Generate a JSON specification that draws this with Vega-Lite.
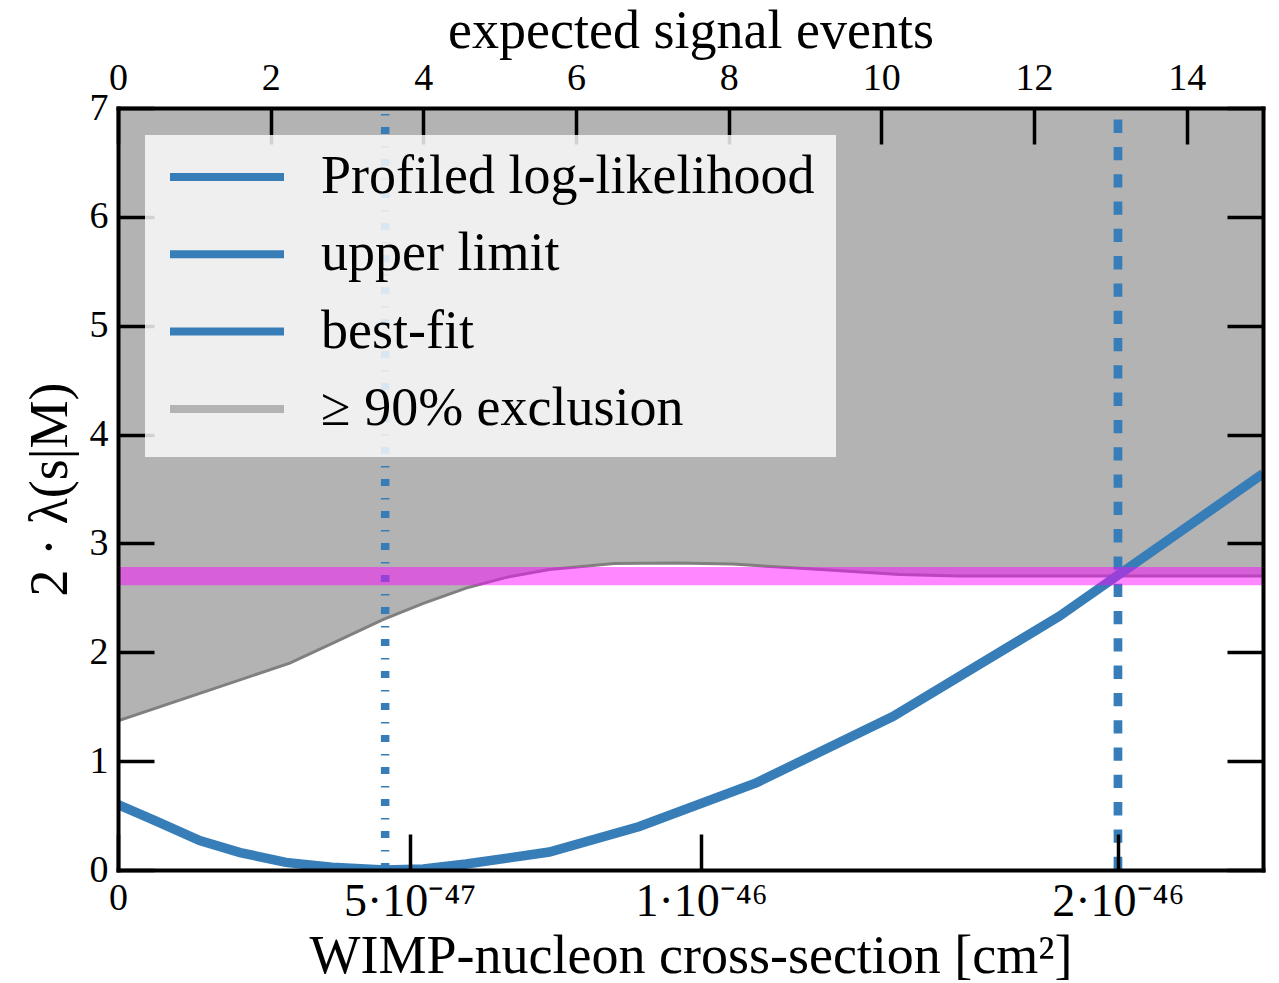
{
  "$schema": "https://vega.github.io/schema/vega-lite/v6.json",
  "width": 1145,
  "height": 762,
  "autosize": "none",
  "padding": {"left": 118, "top": 108, "right": 16, "bottom": 113},
  "background": "white",
  "config": {
    "font": "Liberation Serif",
    "view": {"stroke": null},
    "axis": {
      "grid": false,
      "domainColor": "black",
      "domainWidth": 4,
      "domainCap": "square",
      "tickColor": "black",
      "tickWidth": 3.5,
      "tickSize": -36,
      "labelFont": "Liberation Serif",
      "labelFontSize": 38,
      "labelColor": "black",
      "labelFlush": false,
      "labelOverlap": false,
      "labelBound": false,
      "titleFont": "Liberation Serif",
      "titleFontSize": 54,
      "titleFontWeight": "normal",
      "titleColor": "black"
    }
  },
  "datasets": {
    "threshold": [
      {"e": 0, "thr": 1.37},
      {"e": 2.25, "thr": 1.9},
      {"e": 2.8, "thr": 2.08},
      {"e": 3.47, "thr": 2.3},
      {"e": 4.0, "thr": 2.45},
      {"e": 4.56, "thr": 2.59},
      {"e": 5.1, "thr": 2.69},
      {"e": 5.65, "thr": 2.76},
      {"e": 6.5, "thr": 2.815},
      {"e": 7.3, "thr": 2.82},
      {"e": 8.05, "thr": 2.81},
      {"e": 9.0, "thr": 2.77},
      {"e": 10.24, "thr": 2.715},
      {"e": 11.0, "thr": 2.7},
      {"e": 15.0, "thr": 2.7}
    ],
    "profile": [
      {"e": 0, "v": 0.6},
      {"e": 0.5, "v": 0.45},
      {"e": 1.07, "v": 0.27},
      {"e": 1.6, "v": 0.16},
      {"e": 2.2, "v": 0.07},
      {"e": 2.8, "v": 0.025},
      {"e": 3.5, "v": 0.0},
      {"e": 4.0, "v": 0.01},
      {"e": 4.56, "v": 0.055},
      {"e": 5.65, "v": 0.165},
      {"e": 6.83, "v": 0.4},
      {"e": 8.36, "v": 0.8},
      {"e": 10.15, "v": 1.41},
      {"e": 12.33, "v": 2.33},
      {"e": 15.0, "v": 3.64}
    ],
    "bestfit": [{"e": 3.5}],
    "upper": [{"e": 13.1}],
    "band": [{"v": 2.7}]
  },
  "layer": [
    {
      "data": {"name": "threshold"},
      "mark": {"type": "area", "clip": true, "opacity": 1},
      "encoding": {
        "x": {
          "field": "e", "type": "quantitative",
          "scale": {"domain": [0, 15], "nice": false, "zero": false},
          "axis": {
            "orient": "bottom",
            "zindex": 1,
            "title": "WIMP-nucleon cross-section [cm²]",
            "values": [0, 3.82, 7.64, 13.1],
            "labelExpr": "datum.value < 1 ? '0' : datum.value < 5 ? '5·10⁻⁴⁷' : datum.value < 10 ? '1·10⁻⁴⁶' : '2·10⁻⁴⁶'",
            "labelFontSize": {"condition": {"test": "datum.value < 1", "value": 38}, "value": 46},
            "labelPadding": 45,
            "titlePadding": 5
          }
        },
        "y": {
          "field": "thr", "type": "quantitative",
          "scale": {"domain": [0, 7], "nice": false, "zero": false},
          "axis": {
            "orient": "left",
            "zindex": 1,
            "title": "2 · λ(s|M)",
            "values": [0, 1, 2, 3, 4, 5, 6, 7],
            "labelPadding": 46,
            "titlePadding": 12
          }
        },
        "y2": {"datum": 7},
        "color": {
          "datum": "≥ 90% exclusion",
          "type": "nominal",
          "scale": {
            "domain": ["Profiled log-likelihood", "upper limit", "best-fit", "≥ 90% exclusion"],
            "range": ["#377eb8", "#377eb8", "#377eb8", "#b3b3b3"]
          },
          "legend": {
            "title": null,
            "orient": "none",
            "legendX": 27,
            "legendY": 27,
            "padding": 21,
            "fillColor": "rgba(251,251,251,0.83)",
            "strokeColor": null,
            "symbolType": "stroke",
            "symbolSize": 12996,
            "symbolStrokeWidth": 8,
            "clipHeight": 42,
            "rowPadding": 23.3,
            "labelFont": "Liberation Serif",
            "labelFontSize": 54,
            "labelColor": "black",
            "labelLimit": 1000,
            "labelOffset": 33,
            "symbolOffset": 0,
            "zindex": 2
          }
        }
      }
    },
    {
      "data": {"name": "threshold"},
      "mark": {"type": "line", "clip": true, "stroke": "#808080", "strokeWidth": 3},
      "encoding": {
        "x": {"field": "e", "type": "quantitative", "axis": null},
        "y": {"field": "thr", "type": "quantitative", "axis": null}
      }
    },
    {
      "data": {"name": "profile"},
      "mark": {"type": "line", "clip": true, "strokeWidth": 9.5, "strokeCap": "butt"},
      "encoding": {
        "x": {
          "field": "e", "type": "quantitative",
          "axis": {
            "orient": "top",
            "zindex": 1,
            "title": "expected signal events",
            "values": [0, 2, 4, 6, 8, 10, 12, 14],
            "labelPadding": 47,
            "titlePadding": 1
          }
        },
        "y": {
          "field": "v", "type": "quantitative",
          "axis": {
            "orient": "right",
            "zindex": 1,
            "title": null,
            "labels": false,
            "values": [0, 1, 2, 3, 4, 5, 6, 7]
          }
        },
        "color": {"datum": "Profiled log-likelihood", "type": "nominal"}
      }
    },
    {
      "data": {"name": "bestfit"},
      "mark": {"type": "rule", "strokeWidth": 8.5, "strokeDash": [7, 11.5, 1.5, 12]},
      "encoding": {
        "x": {"field": "e", "type": "quantitative", "axis": null},
        "y": {"datum": 0, "axis": null},
        "y2": {"datum": 7},
        "color": {"datum": "best-fit", "type": "nominal"}
      }
    },
    {
      "data": {"name": "upper"},
      "mark": {"type": "rule", "strokeWidth": 8.7, "strokeDash": [13.3, 14]},
      "encoding": {
        "x": {"field": "e", "type": "quantitative", "axis": null},
        "y": {"datum": 0, "axis": null},
        "y2": {"datum": 7},
        "color": {"datum": "upper limit", "type": "nominal"}
      }
    },
    {
      "data": {"name": "band"},
      "mark": {"type": "rule", "color": "#ff00ff", "opacity": 0.47, "strokeWidth": 18.4},
      "encoding": {
        "y": {"field": "v", "type": "quantitative", "axis": null}
      }
    }
  ],
  "resolve": {"axis": {"x": "independent", "y": "independent"}}
}
